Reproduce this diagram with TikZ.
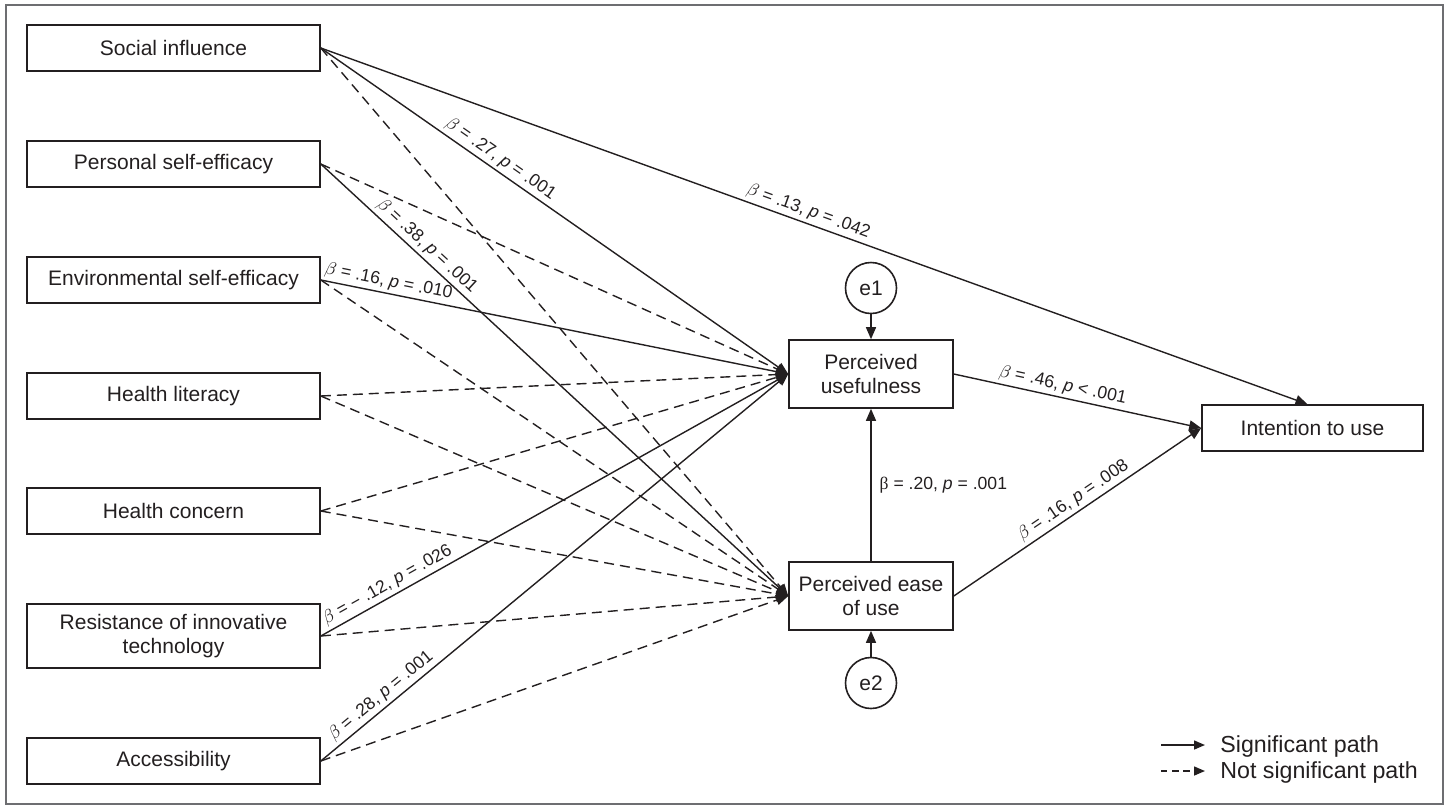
\documentclass[tikz,border=0pt]{standalone}
\usepackage{fontspec}
\setmainfont{Liberation Sans}
\newfontfamily\symserif{Liberation Serif}
\usetikzlibrary{arrows.meta}
\definecolor{ink}{HTML}{231F20}
\definecolor{framegray}{HTML}{6D6E71}
\newcommand\bpl[2]{$\beta$ = #1, \textit{p} = #2}
\begin{document}
\begin{tikzpicture}[x=0.5pt,y=-0.5pt,
  box/.style={draw=ink, line width=0.8pt, text=ink, inner sep=0pt,
    font=\fontsize{10.5}{12}\selectfont, align=center,
    minimum width=146.5pt, minimum height=23pt},
  midbox/.style={box, minimum width=82pt, minimum height=34pt},
  errnode/.style={draw=ink, line width=0.8pt, circle, text=ink, inner sep=0pt,
    minimum size=25.5pt, font=\fontsize{10.5}{12}\selectfont},
  sig/.style={draw=ink, line width=0.7pt, -{Triangle[length=6pt,width=5pt]}},
  ns/.style={sig, dash pattern=on 5pt off 3pt},
  lab/.style={sloped, above, inner sep=1.5pt, font=\fontsize{8.8}{10}\selectfont, text=ink},
  legtext/.style={anchor=base west, inner sep=0pt, text=ink, font=\fontsize{11.6}{14}\selectfont}
]
\useasboundingbox (0,0) rectangle (1452,811);
\draw[framegray, line width=0.8pt] (6,5) rectangle (1443,804);

% left column
\node[box] (si)  at (173.5,48)  {Social influence};
\node[box] (pse) at (173.5,164) {Personal self-efficacy};
\node[box] (ese) at (173.5,280) {Environmental self-efficacy};
\node[box] (hl)  at (173.5,396) {Health literacy};
\node[box] (hc)  at (173.5,511) {Health concern};
\node[box, minimum height=32pt] (rit) at (173.5,636) {Resistance of innovative\\technology};
\node[box] (acc) at (173.5,761) {Accessibility};

% middle
\node[midbox] (pu)   at (871,374) {Perceived\\usefulness};
\node[midbox] (peou) at (871,596) {Perceived ease\\of use};
\node[errnode] (e1) at (871,288) {e1};
\node[errnode] (e2) at (871,683) {e2};

% right
\node[box, minimum width=110.5pt] (int) at (1312.5,428) {Intention to use};

% paths to PU
\draw[sig] (si.east) -- node[lab,pos=0.37]{\bpl{.27}{.001}} (pu.west);
\draw[ns]  (pse.east) -- (pu.west);
\draw[sig] (ese.east) -- node[lab,pos=0.14]{\bpl{.16}{.010}} (pu.west);
\draw[ns]  (hl.east) -- (pu.west);
\draw[ns]  (hc.east) -- (pu.west);
\draw[sig] (rit.east) -- node[lab,pos=0.155]{\bpl{− .12}{.026}} (pu.west);
\draw[sig] (acc.east) -- node[lab,pos=0.145]{\bpl{.28}{.001}} (pu.west);

% paths to PEOU
\draw[ns]  (si.east) -- (peou.west);
\draw[sig] (pse.east) -- node[lab,pos=0.21]{\bpl{.38}{.001}} (peou.west);
\draw[ns]  (ese.east) -- (peou.west);
\draw[ns]  (hl.east) -- (peou.west);
\draw[ns]  (hc.east) -- (peou.west);
\draw[ns]  (rit.east) -- (peou.west);
\draw[ns]  (acc.east) -- (peou.west);

% paths to intention
\draw[sig] (si.east) -- node[lab,pos=0.49]{\bpl{.13}{.042}} ([xshift=-2.5pt]int.north);
\draw[sig] (pu.east) -- node[lab,pos=0.43]{$\beta$ = .46, \textit{p} < .001} (int.west);
\draw[sig] (peou.east) -- node[lab,pos=0.51]{\bpl{.16}{.008}} (int.west);

% PEOU -> PU, errors
\draw[sig] (peou.north) -- node[right=4pt, inner sep=0pt, text=ink, font=\fontsize{8.8}{10}\selectfont]{{\symserif β} = .20, \textit{p} = .001} (pu.south);
\draw[sig] (e1.south) -- (pu.north);
\draw[sig] (e2.north) -- (peou.south);

% legend
\coordinate (l1s) at (1161,745);
\coordinate (l1e) at (1205,745);
\coordinate (l2s) at (1161,771);
\coordinate (l2e) at (1205,771);
\draw[draw=ink, line width=0.7pt, -{Triangle[length=5.5pt,width=4.5pt]}] (l1s) -- (l1e);
\draw[draw=ink, line width=0.7pt, dash pattern=on 3.2pt off 2.4pt, -{Triangle[length=5.5pt,width=4.5pt]}] (l2s) -- (l2e);
\node[legtext] (lt1) at (1220,752) {Significant path};
\node[legtext] (lt2) at (1220,778) {Not significant path};
\end{tikzpicture}
\end{document}
